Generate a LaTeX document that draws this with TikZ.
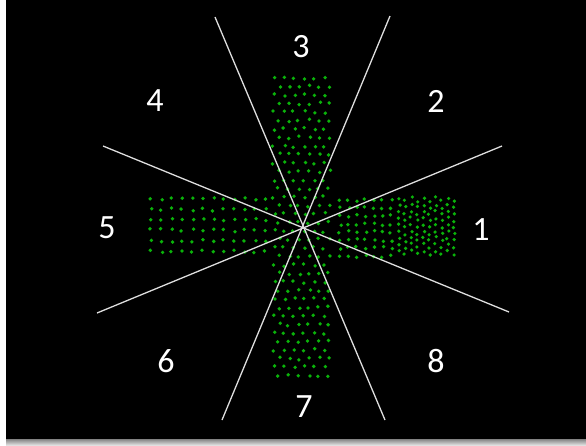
\documentclass[tikz,border=0pt]{standalone}
\usepackage{fontspec}
\setmainfont{Carlito}
\usetikzlibrary{calc}
\definecolor{dotgreen}{RGB}{10,178,10}
\definecolor{linegray}{RGB}{222,222,222}
\tikzset{
  greendot/.style={fill=dotgreen,draw=none},
  divline/.style={draw=linegray,line width=1.3pt},
  sector/.style={text=white,font=\fontsize{34}{40}\selectfont,inner sep=0pt},
  slide/.style={fill=black,draw=none},
}
\begin{document}
\begin{tikzpicture}[x=1pt,y=-1pt]

  \useasboundingbox (0,0) rectangle (586,445);
  \fill[white] (0,0) rectangle (586,445);
  \shade[top color=black!55,bottom color=black!12] (6,438) rectangle (586,445);
  \fill[slide] (6,0) rectangle (586,439);

  % point cloud: vertical bar
  \pgfmathsetseed{11}
  \foreach \r in {0,...,35} {
    \pgfmathsetmacro{\yy}{78+\r*8.5}
    \pgfmathsetmacro{\sh}{mod(\r,2)*5}
    \foreach \c in {0,...,5} {
      \pgfmathsetmacro{\xx}{274+\sh+\c*10}
      \fill[greendot] ({\xx+rand*1.6},{\yy+rand*1.4}) circle[radius=1.9pt];
    }
  }

  % point cloud: left arm
  \foreach \c in {0,...,11} {
    \foreach \r in {0,...,5} {
      \fill[greendot] ({151+\c*10.4+rand*1.2},{199+\r*10.4+rand*1.6}) circle[radius=1.9pt];
    }
  }

  % point cloud: right arm (loose part)
  \foreach \c in {0,...,6} {
    \foreach \r in {0,...,7} {
      \fill[greendot] ({340+\c*8.5+rand*1.4},{200+\r*8+rand*1.4}) circle[radius=1.9pt];
    }
  }

  % point cloud: right arm (dense end)
  \foreach \c in {0,...,9} {
    \pgfmathsetmacro{\sh}{mod(\c,2)*3}
    \foreach \r in {0,...,8} {
      \fill[greendot] ({399+\c*6.1+rand*1.2},{198+\sh+\r*6.6+rand*1.2}) circle[radius=1.8pt];
    }
  }

  % sector boundaries
  \coordinate (c) at (303,228);
  \coordinate (l3a) at (215,17);
  \coordinate (l3b) at (385,420);
  \coordinate (l2a) at (390,16);
  \coordinate (l2b) at (222,420);
  \coordinate (l4a) at (103,146);
  \coordinate (l4b) at (509,312);
  \coordinate (l1a) at (502,146);
  \coordinate (l1b) at (97,313);
  \draw[divline] (l3a) -- (l3b);
  \draw[divline] (l2a) -- (l2b);
  \draw[divline] (l4a) -- (l4b);
  \draw[divline] (l1a) -- (l1b);

  % sector numbers
  \node[sector] (s1) at (481,230) {1};
  \node[sector] (s2) at (436,101) {2};
  \node[sector] (s3) at (301,47)  {3};
  \node[sector] (s4) at (155,101) {4};
  \node[sector] (s5) at (107,228) {5};
  \node[sector] (s6) at (166,361) {6};
  \node[sector] (s7) at (304,407) {7};
  \node[sector] (s8) at (436,361) {8};

\end{tikzpicture}
\end{document}
